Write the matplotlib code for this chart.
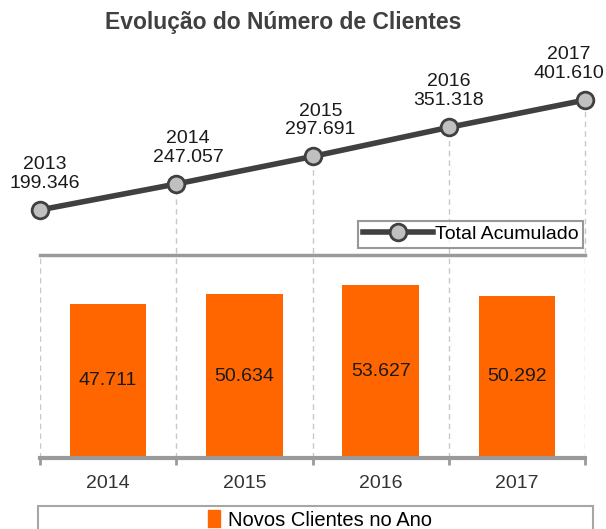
import matplotlib
matplotlib.use("Agg")
import matplotlib.pyplot as plt
from matplotlib.patches import Rectangle

plt.rcParams['font.family'] = ['Liberation Sans', 'DejaVu Sans']

title = "Evolução do Número de Clientes"
years_total = ["2013", "2014", "2015", "2016", "2017"]
total_acumulado = [199346, 247057, 297691, 351318, 401610]
total_labels = ["199.346", "247.057", "297.691", "351.318", "401.610"]

years_new = ["2014", "2015", "2016", "2017"]
novos_clientes = [47711, 50634, 53627, 50292]
novos_labels = ["47.711", "50.634", "53.627", "50.292"]

W, H = 606, 529
fig = plt.figure(figsize=(W / 100, H / 100), dpi=100)

def px_axes(left, top, right, bottom):
    return fig.add_axes([left / W, 1 - bottom / H, (right - left) / W, (bottom - top) / H])

line_color = "#404040"
grid_color = "#c8c8c8"
axis_gray = "#9a9a9a"
orange = "#ff6600"

# ---------- top: cumulative line ----------
ax_t = px_axes(40, 45, 585, 253)
ax_t.set_xlim(0, 4)
ax_t.set_ylim(120000, 503000)
ax_t.axis("off")
xs = list(range(len(total_acumulado)))
for x, v in zip(xs[1:], total_acumulado[1:]):
    ax_t.plot([x, x], [120000, v], ls=(0, (4, 3)), color=grid_color, lw=1, zorder=1, clip_on=False)
ax_t.plot(xs, total_acumulado, color=line_color, lw=4, marker="o", ms=12,
          mfc="#c0c0c0", mec=line_color, mew=2, zorder=3, clip_on=False,
          label="Total Acumulado")
offsets = [5, 12, 8, 0, -16]
for x, v, y, lab, dx in zip(xs, total_acumulado, years_total, total_labels, offsets):
    ax_t.annotate(f"{y}\n{lab}", (x, v), xytext=(dx, 18), textcoords="offset pixels",
                  ha="center", va="bottom", fontsize=14, color="#1a1a1a",
                  linespacing=1.15, annotation_clip=False)
leg_t = ax_t.legend(loc="lower right", bbox_to_anchor=(583 / W, 1 - 248 / H),
                    bbox_transform=fig.transFigure, frameon=True, fancybox=False,
                    fontsize=14, handlelength=3.6, handletextpad=0.1,
                    borderpad=0.25, borderaxespad=0)
leg_t.get_frame().set_edgecolor("#7f7f7f")
leg_t.get_frame().set_linewidth(1.5)

# ---------- bottom: bars ----------
ax_b = px_axes(40, 255, 585, 458)
ax_b.set_xlim(0, 4)
ax_b.set_ylim(0, 62850)
centers = [i + 0.5 for i in range(len(novos_clientes))]
ax_b.bar(centers, novos_clientes, width=0.56, color=orange, zorder=2)
for c, v, lab in zip(centers, novos_clientes, novos_labels):
    ax_b.text(c, v / 2, lab, ha="center", va="center", fontsize=14, color="#1a1a1a", zorder=3)
ax_b.set_xticks(range(5))
ax_b.set_xticklabels([])
ax_b.set_xticks(centers, minor=True)
ax_b.set_xticklabels(years_new, minor=True)
ax_b.tick_params(axis="x", which="major", length=5, width=2, color=axis_gray, direction="out")
ax_b.tick_params(axis="x", which="minor", length=0, pad=12, labelsize=14, labelcolor="#333333")
ax_b.set_yticks([])
ax_b.grid(axis="x", which="major", ls=(0, (4, 3)), color=grid_color, lw=1, zorder=0)
for s in ["left", "right"]:
    ax_b.spines[s].set_visible(False)
ax_b.spines["bottom"].set_color(axis_gray)
ax_b.spines["bottom"].set_linewidth(3)
ax_b.spines["top"].set_color(axis_gray)
ax_b.spines["top"].set_linewidth(2.5)

# bottom legend box
fig.patches.append(Rectangle((38 / W, -0.01), 555 / W, 1 - 506 / H + 0.01,
                             transform=fig.transFigure, fill=False,
                             edgecolor="#a6a6a6", lw=1.5))
handle = Rectangle((0, 0), 1, 1, color=orange)
fig.legend([handle], ["Novos Clientes no Ano"], loc="center",
           bbox_to_anchor=(320 / W, 1 - 520 / H), frameon=False, fontsize=14.5,
           handlelength=0.6, handleheight=0.9, handletextpad=0.4)

fig.text(283 / W, 1 - 22 / H, title, ha="center", va="center",
         fontsize=16.5, fontweight="heavy", color="#404040")

fig.savefig("out.png", dpi=100)
